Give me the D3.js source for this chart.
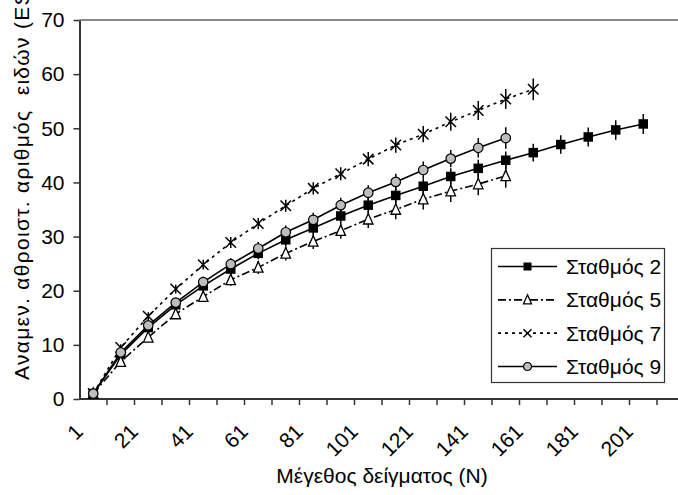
<!DOCTYPE html>
<html>
<head>
<meta charset="utf-8">
<script src="https://cdn.jsdelivr.net/npm/d3@7/dist/d3.min.js"></script>
<style>
  html, body { margin: 0; padding: 0; background: #fff; overflow: hidden; }
  svg { display: block; font-family: "Liberation Sans", Arial, sans-serif; }
</style>
</head>
<body>
<svg id="chart" width="678" height="495"></svg>
<script>
// Sample sizes (N) used as categories on the x axis
const sampleSizes = [1, 11, 21, 31, 41, 51, 61, 71, 81, 91, 101, 111, 121, 131, 141, 151, 161, 171, 181, 191, 201, 211];
const tickLabels = ["1", "21", "41", "61", "81", "101", "121", "141", "161", "181", "201"];
const yTicks = [0, 10, 20, 30, 40, 50, 60, 70];

// Expected cumulative species number and its standard deviation per station
const station2    = [1, 8.2, 13.2, 17.4, 20.9, 24.0, 26.9, 29.4, 31.6, 33.8, 35.8, 37.6, 39.3, 41.1, 42.6, 44.1, 45.5, 47.0, 48.4, 49.7, 50.8];
const station2Err = [0, 0.5, 0.7, 0.8, 0.9, 1.0, 1.1, 1.15, 1.2, 1.3, 1.35, 1.4, 1.45, 1.5, 1.6, 1.6, 1.65, 1.7, 1.75, 1.8, 1.85];
const station5    = [1, 6.9, 11.4, 15.7, 18.9, 22.0, 24.3, 26.9, 29.1, 31.1, 33.2, 35.0, 36.9, 38.4, 39.7, 41.2];
const station5Err = [0, 0.6, 0.8, 0.9, 1.0, 1.1, 1.2, 1.3, 1.4, 1.5, 1.6, 1.8, 1.9, 2.0, 2.05, 2.2];
const station7    = [1, 9.5, 15.3, 20.3, 24.8, 28.9, 32.4, 35.7, 38.9, 41.6, 44.3, 46.9, 48.9, 51.2, 53.3, 55.4, 57.2];
const station7Err = [0, 0.6, 0.7, 0.8, 0.9, 1.0, 1.05, 1.1, 1.15, 1.2, 1.3, 1.4, 1.5, 1.65, 1.75, 1.85, 2.0];
const station9    = [1, 8.6, 13.6, 17.8, 21.6, 24.9, 27.8, 30.8, 33.1, 35.8, 38.1, 40.1, 42.3, 44.4, 46.4, 48.2];
const station9Err = [0, 0.6, 0.8, 0.9, 1.0, 1.1, 1.2, 1.25, 1.3, 1.35, 1.4, 1.5, 1.55, 1.6, 1.8, 2.0];

const seriesNames = ["Σταθμός 2", "Σταθμός 5", "Σταθμός 7", "Σταθμός 9"];

const xTitle = "Μέγεθος δείγματος (Ν)";
const yTitle = "Αναμεν. αθροιστ. αριθμός  ειδών (ES(n))";

// Drawing styles for each series
const styles = [
  { dash: null,       marker: "square" },
  { dash: "8,3,2,3",  marker: "triangle" },
  { dash: "3,4",      marker: "cross" },
  { dash: null,       marker: "circle" }
];

const errors = [station2Err, station5Err, station7Err, station9Err];
const series = [station2, station5, station7, station9].map((vals, i) => ({
  name: seriesNames[i],
  style: styles[i],
  points: vals.map((v, j) => ({ n: sampleSizes[j], v: v, e: errors[i][j] }))
}));

const svg = d3.select("#chart");
const FONT = 21;

const plot = { left: 79.5, top: 20, bottom: 399, right: 684.5 };

const x = d3.scaleBand().domain(sampleSizes).range([plot.left, plot.right]).padding(0);
const cx = n => x(n) + x.bandwidth() / 2;
const y = d3.scaleLinear().domain([0, 70]).range([plot.bottom, plot.top]);

// plot area border (top edge visible)
svg.append("line")
  .attr("x1", plot.left).attr("x2", plot.right)
  .attr("y1", plot.top).attr("y2", plot.top)
  .attr("stroke", "#8a8a8a").attr("stroke-width", 2);

// y axis
const yAxis = d3.axisLeft(y).tickValues(yTicks).tickSize(6).tickSizeOuter(0).tickPadding(9);
const gy = svg.append("g").attr("transform", `translate(${plot.left},0)`).call(yAxis);
gy.select(".domain").attr("stroke", "#333").attr("stroke-width", 2);
gy.selectAll(".tick line").attr("stroke", "#333").attr("stroke-width", 1.5);
gy.selectAll(".tick text").attr("font-size", FONT).attr("fill", "#000")
  .attr("font-family", "Liberation Sans, Arial, sans-serif");

// x axis: ticks between categories
const gx = svg.append("g");
gx.append("line")
  .attr("x1", plot.left).attr("x2", plot.right)
  .attr("y1", plot.bottom).attr("y2", plot.bottom)
  .attr("stroke", "#333").attr("stroke-width", 2);
const boundaries = sampleSizes.map(n => x(n)).concat([x(sampleSizes[sampleSizes.length - 1]) + x.bandwidth()]);
gx.selectAll("line.tick").data(boundaries.slice(1)).join("line")
  .attr("class", "tick")
  .attr("x1", d => d).attr("x2", d => d)
  .attr("y1", plot.bottom).attr("y2", plot.bottom + 6)
  .attr("stroke", "#333").attr("stroke-width", 1.5);
gx.selectAll("text").data(tickLabels).join("text")
  .attr("transform", d => `translate(${cx(+d) - 9},${plot.bottom + 34}) rotate(-45)`)
  .attr("text-anchor", "end")
  .attr("font-size", FONT)
  .text(d => d);

// axis titles
svg.append("text")
  .attr("x", (plot.left + plot.right) / 2).attr("y", 483)
  .attr("text-anchor", "middle").attr("font-size", FONT)
  .text(xTitle);
svg.append("text")
  .attr("transform", `translate(29,380) rotate(-90)`)
  .attr("text-anchor", "start").attr("font-size", FONT)
  .attr("letter-spacing", 1.3)
  .style("white-space", "pre")
  .text(yTitle);

// marker drawing
function drawMarker(g, type, size) {
  const h = size / 2;
  if (type === "square") {
    g.append("rect").attr("x", -h).attr("y", -h).attr("width", size).attr("height", size)
      .attr("fill", "#000");
  } else if (type === "triangle") {
    g.append("path").attr("d", `M0,${-h - 1}L${h},${h}L${-h},${h}Z`)
      .attr("fill", "#fff").attr("stroke", "#000").attr("stroke-width", 1.3);
  } else if (type === "cross") {
    g.append("path").attr("d", `M${-h},${-h}L${h},${h}M${-h},${h}L${h},${-h}`)
      .attr("stroke", "#000").attr("stroke-width", 1.5);
  } else if (type === "circle") {
    g.append("circle").attr("r", h).attr("fill", "#bdbdbd")
      .attr("stroke", "#000").attr("stroke-width", 1.2);
  }
}

const line = d3.line().x(d => cx(d.n)).y(d => y(d.v));

series.forEach(s => {
  const g = svg.append("g");
  g.append("path").attr("d", line(s.points))
    .attr("fill", "none").attr("stroke", "#000").attr("stroke-width", 1.6)
    .attr("stroke-dasharray", s.style.dash);
  g.selectAll("line.err").data(s.points.filter(p => p.e > 0)).join("line")
    .attr("class", "err")
    .attr("x1", p => cx(p.n)).attr("x2", p => cx(p.n))
    .attr("y1", p => y(p.v - p.e)).attr("y2", p => y(p.v + p.e))
    .attr("stroke", "#000").attr("stroke-width", 1.5);
  s.points.forEach(p => {
    const m = g.append("g").attr("transform", `translate(${cx(p.n)},${y(p.v)})`);
    drawMarker(m, s.style.marker, s.style.marker === "cross" ? 10.5 : 9.5);
  });
});

// legend
const legend = svg.append("g");
legend.append("rect")
  .attr("x", 491.5).attr("y", 248.5).attr("width", 173).attr("height", 134)
  .attr("fill", "#fff").attr("stroke", "#333").attr("stroke-width", 1.2);
const rowY = d3.scalePoint().domain(seriesNames).range([266.5, 366.5]);
series.forEach(s => {
  const ry = rowY(s.name);
  legend.append("line")
    .attr("x1", 498).attr("x2", 557).attr("y1", ry).attr("y2", ry)
    .attr("stroke", "#000").attr("stroke-width", 1.6)
    .attr("stroke-dasharray", s.style.dash);
  const m = legend.append("g").attr("transform", `translate(527.5,${ry})`);
  drawMarker(m, s.style.marker, 8);
  legend.append("text")
    .attr("x", 566).attr("y", ry).attr("dy", "0.35em")
    .attr("font-size", FONT)
    .text(s.name);
});
</script>
</body>
</html>
